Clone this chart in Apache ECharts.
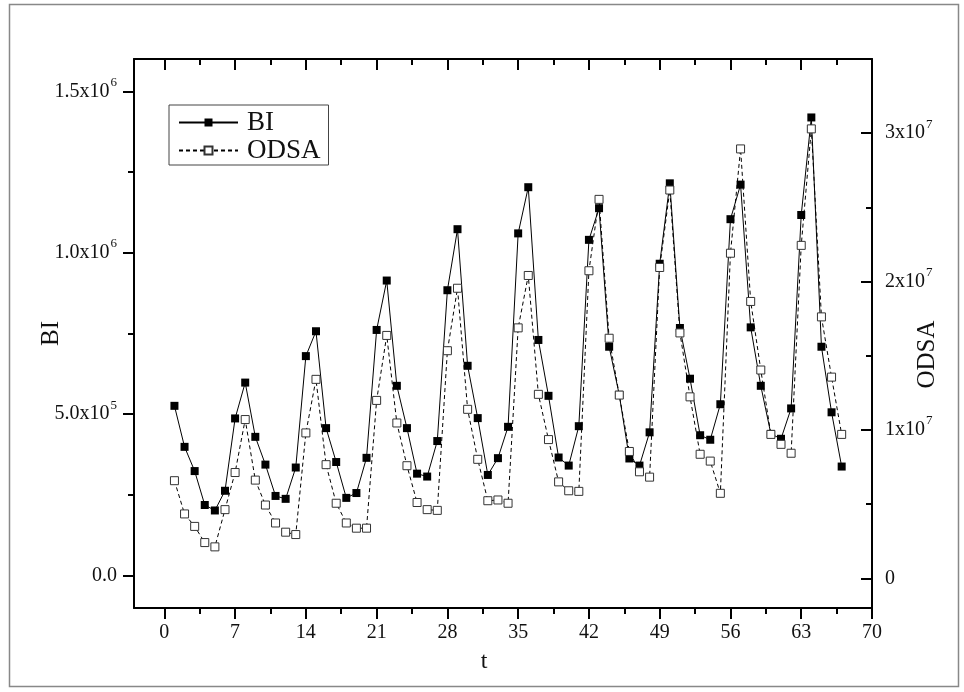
<!DOCTYPE html>
<html>
<head>
<meta charset="utf-8">
<script src="https://cdn.jsdelivr.net/npm/echarts@6/dist/echarts.min.js"></script>
<style>
html,body{margin:0;padding:0;background:#fff;}
#chart{width:964px;height:692px;}
</style>
</head>
<body>
<div id="chart"></div>
<script>
// ---- data ----
var tValues = [1,2,3,4,5,6,7,8,9,10,11,12,13,14,15,16,17,18,19,20,21,22,23,24,25,26,27,28,29,30,31,32,33,34,35,36,37,38,39,40,41,42,43,44,45,46,47,48,49,50,51,52,53,54,55,56,57,58,59,60,61,62,63,64,65,66,67];
var biValues = [526000,399000,324000,219000,202000,263000,487000,598000,430000,344000,247000,238000,335000,680000,757000,457000,352000,241000,256000,365000,761000,914000,588000,457000,316000,307000,417000,884000,1073000,650000,488000,312000,364000,461000,1060000,1203000,730000,557000,366000,341000,463000,1040000,1138000,709000,560000,363000,341000,444000,966000,1215000,767000,610000,435000,421000,531000,1104000,1211000,769000,588000,439000,424000,518000,1117000,1419000,709000,506000,338000];
var odsaValues = [6580000,4340000,3500000,2410000,2120000,4630000,7130000,10700000,6620000,4940000,3730000,3110000,2950000,9800000,13410000,7660000,5060000,3730000,3380000,3380000,11990000,16370000,10470000,7590000,5110000,4630000,4580000,15340000,19550000,11390000,8020000,5230000,5280000,5060000,16880000,20410000,12400000,9350000,6500000,5900000,5860000,20730000,25540000,16180000,12350000,8550000,7180000,6820000,20950000,26170000,16540000,12230000,8360000,7900000,5730000,21910000,28940000,18660000,14040000,9700000,9030000,8430000,22440000,30290000,17620000,13560000,9700000];

var xTicks = [0,7,14,21,28,35,42,49,56,63,70];
var xMinorTicks = [3.5,10.5,17.5,24.5,31.5,38.5,45.5,52.5,59.5,66.5];
var biTicks = [0,500000,1000000,1500000];
var biTickMantissa = ['0.0','5.0','1.0','1.5'];
var biTickExp = ['', '5', '6', '6'];
var biMinorTicks = [250000,750000,1250000];
var odsaTicks = [0,10000000,20000000,30000000];
var odsaTickMantissa = ['0','1','2','3'];
var odsaTickExp = ['', '7', '7', '7'];
var odsaMinorTicks = [5000000,15000000,25000000];

var X_MIN = -3, X_MAX = 70;
var BI_MIN = -100000, BI_MAX = 1600000;
var OD_MIN = -2000000, OD_MAX = 35000000;

var FONT = 'Liberation Serif';

function sciFormatter(ticks, mant, exps) {
  return function (v) {
    for (var i = 0; i < ticks.length; i++) {
      if (Math.abs(v - ticks[i]) < 1e-6 * Math.max(1, Math.abs(ticks[i]))) {
        if (exps[i] === '') return '{m|' + mant[i] + '}';
        return '{m|' + mant[i] + 'x10}{s|' + exps[i] + '}';
      }
    }
    return '';
  };
}
var richStyle = {
  m: {fontFamily: FONT, fontSize: 20, color: '#111'},
  s: {fontFamily: FONT, fontSize: 13, color: '#111', padding: [0, 0, 18, 1]}
};

var biData = tValues.map(function (t, i) { return [t, biValues[i]]; });
var odsaData = tValues.map(function (t, i) { return [t, odsaValues[i]]; });

var lineAxis = {show: true, onZero: false, lineStyle: {color: '#000', width: 2}};
var noLine = {show: false, onZero: false};

var chart = echarts.init(document.getElementById('chart'), null, {renderer: 'canvas'});
chart.setOption({
  backgroundColor: '#fff',
  animation: false,
  grid: {left: 134, right: 92, top: 59, bottom: 84, containLabel: false, outerBoundsMode: 'none'},
  legend: {
    left: 169, top: 105,
    orient: 'vertical',
    padding: [4, 8, 1, 9],
    itemGap: 1,
    itemWidth: 59,
    itemHeight: 10,
    borderColor: '#444',
    borderWidth: 1,
    textStyle: {fontFamily: FONT, fontSize: 27, color: '#111', padding: [0, 0, 0, 4]},
    data: ['BI', 'ODSA']
  },
  graphic: [{
    type: 'rect', silent: true, z: -10,
    shape: {x: 9.5, y: 4.5, width: 949, height: 682},
    style: {fill: 'none', stroke: '#888', lineWidth: 1.5}
  }],
  xAxis: [
    {
      type: 'value', position: 'bottom', min: X_MIN, max: X_MAX,
      name: 't', nameLocation: 'middle', nameGap: 42, nameMoveOverlap: false,
      nameTextStyle: {fontFamily: FONT, fontSize: 24, color: '#111', padding: [0, 38, 0, 0]},
      axisLine: lineAxis,
      axisTick: {show: true, inside: false, length: 11, customValues: xTicks, lineStyle: {color: '#000', width: 2}},
      axisLabel: {show: true, margin: 15, customValues: xTicks, fontFamily: FONT, fontSize: 20, color: '#111'},
      splitLine: {show: false}
    },
    {
      type: 'value', position: 'bottom', min: X_MIN, max: X_MAX,
      axisLine: noLine,
      axisTick: {show: true, inside: false, length: 6, customValues: xMinorTicks, lineStyle: {color: '#000', width: 2}},
      axisLabel: {show: false},
      splitLine: {show: false}
    },
    {
      type: 'value', position: 'top', min: X_MIN, max: X_MAX,
      axisLine: lineAxis,
      axisTick: {show: true, inside: true, length: 11, customValues: xTicks, lineStyle: {color: '#000', width: 2}},
      axisLabel: {show: false},
      splitLine: {show: false}
    },
    {
      type: 'value', position: 'top', min: X_MIN, max: X_MAX,
      axisLine: noLine,
      axisTick: {show: true, inside: true, length: 6, customValues: xMinorTicks, lineStyle: {color: '#000', width: 2}},
      axisLabel: {show: false},
      splitLine: {show: false}
    }
  ],
  yAxis: [
    {
      type: 'value', position: 'left', min: BI_MIN, max: BI_MAX,
      name: 'BI', nameLocation: 'middle', nameGap: 70, nameRotate: 90, nameMoveOverlap: false,
      nameTextStyle: {fontFamily: FONT, fontSize: 25, color: '#111'},
      axisLine: lineAxis,
      axisTick: {show: true, inside: false, length: 11, customValues: biTicks, lineStyle: {color: '#000', width: 2}},
      axisLabel: {show: true, margin: 17, customValues: biTicks, formatter: sciFormatter(biTicks, biTickMantissa, biTickExp), rich: richStyle},
      splitLine: {show: false}
    },
    {
      type: 'value', position: 'right', min: OD_MIN, max: OD_MAX,
      name: 'ODSA', nameLocation: 'middle', nameGap: 43, nameRotate: 90, nameMoveOverlap: false,
      nameTextStyle: {fontFamily: FONT, fontSize: 25, color: '#111', padding: [0, 42, 0, 0]},
      axisLine: lineAxis,
      axisTick: {show: true, inside: true, length: 11, customValues: odsaTicks, lineStyle: {color: '#000', width: 2}},
      axisLabel: {show: true, margin: 13, customValues: odsaTicks, formatter: sciFormatter(odsaTicks, odsaTickMantissa, odsaTickExp), rich: richStyle},
      splitLine: {show: false}
    },
    {
      type: 'value', position: 'left', min: BI_MIN, max: BI_MAX,
      axisLine: noLine,
      axisTick: {show: true, inside: false, length: 6, customValues: biMinorTicks, lineStyle: {color: '#000', width: 2}},
      axisLabel: {show: false},
      splitLine: {show: false}
    },
    {
      type: 'value', position: 'right', min: OD_MIN, max: OD_MAX,
      axisLine: noLine,
      axisTick: {show: true, inside: true, length: 6, customValues: odsaMinorTicks, lineStyle: {color: '#000', width: 2}},
      axisLabel: {show: false},
      splitLine: {show: false}
    }
  ],
  series: [
    {
      name: 'BI', type: 'line', xAxisIndex: 0, yAxisIndex: 0,
      data: biData,
      symbol: 'rect', symbolSize: 8, showAllSymbol: true,
      lineStyle: {color: '#000', width: 1, type: 'solid'},
      itemStyle: {color: '#000', borderColor: '#000', borderWidth: 0},
      z: 2
    },
    {
      name: 'ODSA', type: 'line', xAxisIndex: 0, yAxisIndex: 1,
      data: odsaData,
      symbol: 'rect', symbolSize: 8, showAllSymbol: true,
      lineStyle: {color: '#000', width: 1, type: [4, 3]},
      itemStyle: {color: '#fff', borderColor: '#333', borderWidth: 1},
      z: 3
    }
  ]
});
</script>
</body>
</html>
